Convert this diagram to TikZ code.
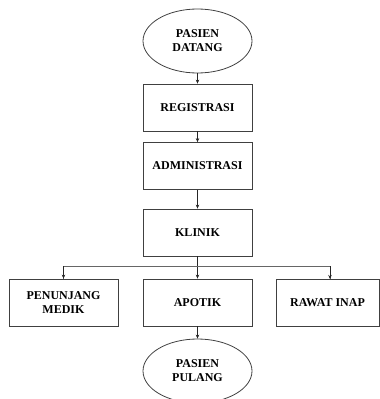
\documentclass[tikz,border=0pt]{standalone}
\usepackage{fontspec}
\setmainfont{Liberation Serif}
\usetikzlibrary{shapes.geometric,arrows.meta}
\begin{document}
\begin{tikzpicture}[x=1pt,y=-1pt,
  line width=0.8pt,
  every node/.style={font=\bfseries\fontsize{12}{14}\selectfont, align=center, text=black},
  stepbox/.style={draw=black!75, rectangle, minimum width=109pt, minimum height=47pt, inner sep=0pt},
  terminal/.style={draw=black!75, ellipse, minimum width=109pt, minimum height=64pt, inner sep=0pt},
  arr/.style={draw=black!85, -{Stealth[length=4pt,width=3.5pt]}},
  link/.style={draw=black!60}]
  \useasboundingbox (0,0) rectangle (380,399);
  \clip (0,0) rectangle (380,399);
  % main column
  \node[terminal] (datang) at (197.5,41) {PASIEN\\DATANG};
  \node[stepbox] (reg) at (197.5,107.5) {REGISTRASI};
  \node[stepbox] (adm) at (197.5,166) {ADMINISTRASI};
  \node[stepbox] (klinik) at (197.5,232.5) {KLINIK};
  % service row
  \node[stepbox] (penunjang) at (63.5,302.5) {PENUNJANG\\MEDIK};
  \node[stepbox] (apotik) at (197.5,302.5) {APOTIK};
  \node[stepbox, minimum width=103pt] (rawat) at (327.5,302.5) {RAWAT INAP};
  \node[terminal] (pulang) at (197.5,371) {PASIEN\\PULANG};
  % branch point under KLINIK
  \coordinate (split) at (197.5,266);
  \coordinate (rtop) at (330,279);
  % connectors
  \draw[arr] (datang) -- (reg);
  \draw[arr] (reg) -- (adm);
  \draw[arr] (adm) -- (klinik);
  \draw[arr] (klinik) -- (apotik);
  \draw[link] (split) -| (penunjang.north);
  \draw[arr] (split -| penunjang.north) -- (penunjang.north);
  \draw[link] (split) -| (rtop);
  \draw[arr] (split -| rtop) -- (rtop);
  \draw[arr] (apotik) -- (pulang);
\end{tikzpicture}
\end{document}
